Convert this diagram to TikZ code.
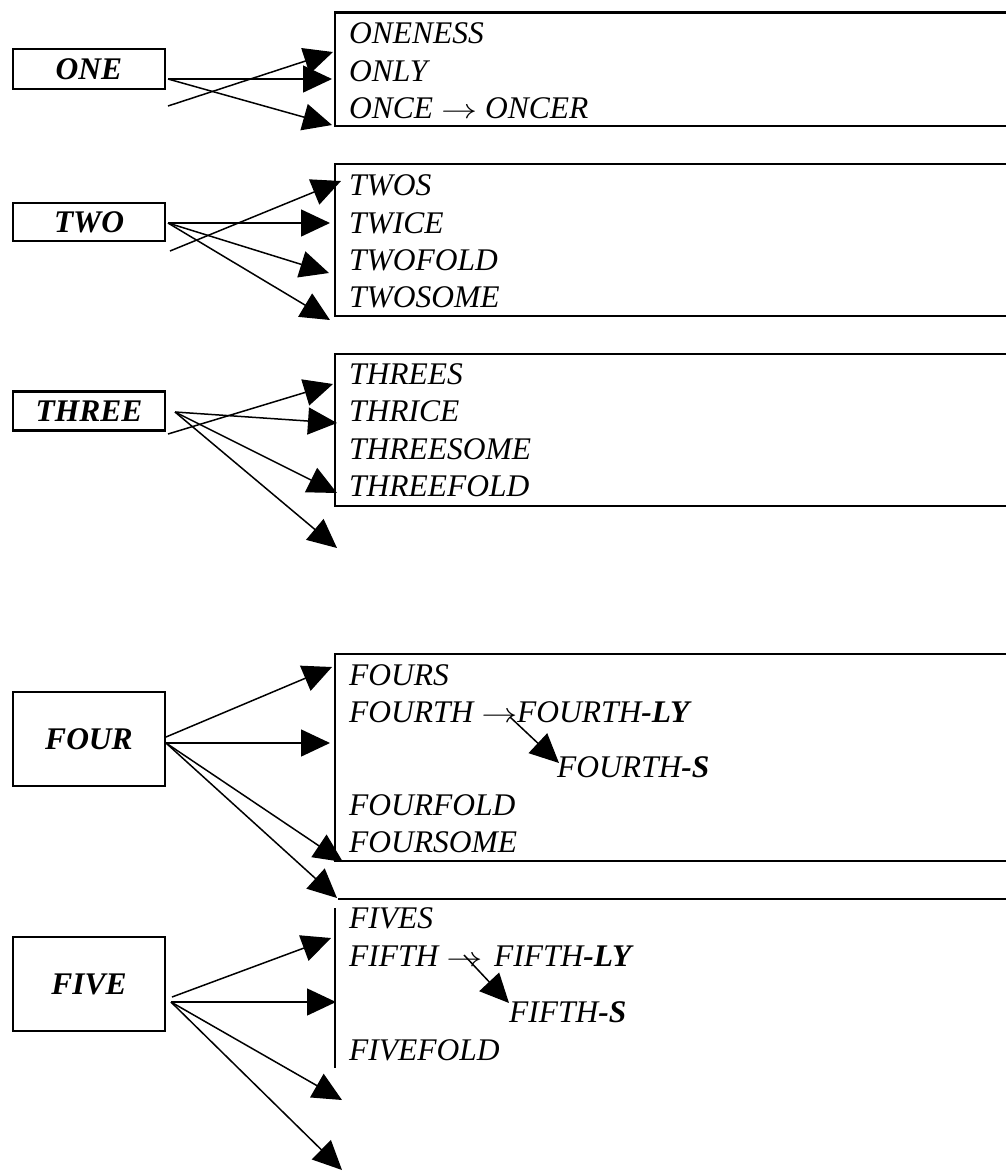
\documentclass[tikz,border=0pt]{standalone}
\usepackage{fontspec}
\setmainfont{Liberation Serif}
\usetikzlibrary{arrows.meta}
\newcommand{\rarr}{\scalebox{1.45}[1.1]{$\rightarrow$}}
\tikzset{
 conn/.style={line width=1.5pt, -{Triangle[length=29pt,width=27pt]}},
 boxline/.style={line width=2.3pt},
 labelbox/.style={draw, line width=2.5pt, minimum width=152pt, inner sep=0pt, font=\fontsize{31.5}{36}\selectfont\bfseries\itshape},
 word/.style={anchor=base west, inner sep=0pt, font=\fontsize{31.5}{36}\selectfont\itshape},
}
\begin{document}
\begin{tikzpicture}[x=1pt,y=-1pt]
\clip (0,0) rectangle (1006,1171);
\fill[white] (0,0) rectangle (1006,1171);

% label boxes
\node[labelbox, minimum height=40pt] (one) at (89,69) {ONE};
\node[labelbox, minimum height=38pt] (two) at (89,222) {TWO};
\node[labelbox, minimum height=39pt] (three) at (89,411) {THREE};
\node[labelbox, minimum height=94pt] (four) at (89,739) {FOUR};
\node[labelbox, minimum height=94pt] (five) at (89,984) {FIVE};

% content boxes (open on the right, cut by the page edge)
\draw[boxline] (1010,12.5) -- (335,12.5) -- (335,126) -- (1010,126);
\draw[boxline] (1010,164) -- (335,164) -- (335,315.7) -- (1010,315.7);
\draw[boxline] (1010,354) -- (335,354) -- (335,505.7) -- (1010,505.7);
\draw[boxline] (1010,654) -- (335,654) -- (335,861) -- (1010,861);
\draw[boxline] (1010,899) -- (338,899);
\draw[boxline] (335,908) -- (335,1068);

% words
\node[word] (w11) at (349,43) {ONENESS};
\node[word] (w12) at (349,81) {ONLY};
\node[word] (w13) at (349,118) {ONCE \rarr{} ONCER};

\node[word] (w21) at (349,195) {TWOS};
\node[word] (w22) at (349,233) {TWICE};
\node[word] (w23) at (349,270) {TWOFOLD};
\node[word] (w24) at (349,307) {TWOSOME};

\node[word] (w31) at (349,384) {THREES};
\node[word] (w32) at (349,421) {THRICE};
\node[word] (w33) at (349,459) {THREESOME};
\node[word] (w34) at (349,496) {THREEFOLD};

\node[word] (w41) at (349,685) {FOURS};
\node[word] (w42) at (349,722.7) {FOURTH \rarr};
\node[word] (w42b) at (517,722.7) {FOURTH\textbf{-LY}};
\node[word] (w43) at (557,777) {FOURTH\textbf{-S}};
\node[word] (w44) at (349,815) {FOURFOLD};
\node[word] (w45) at (349,852) {FOURSOME};

\node[word] (w51) at (349,928) {FIVES};
\node[word] (w52) at (349,966) {FIFTH \rarr};
\node[word] (w52b) at (494,966) {FIFTH\textbf{-LY}};
\node[word] (w53) at (509,1022) {FIFTH\textbf{-S}};
\node[word] (w54) at (349,1060) {FIVEFOLD};

% connector end points
\coordinate (a0) at (168,79);   \coordinate (a0b) at (168,106);
\coordinate (a1) at (332,79);   \coordinate (a2) at (332,125);  \coordinate (a3) at (333,52);
\coordinate (b0) at (168,223);  \coordinate (b0b) at (170,251);
\coordinate (b1) at (330,223);  \coordinate (b2) at (329,273);  \coordinate (b3) at (330,320); \coordinate (b4) at (341,181);
\coordinate (c0) at (175,412);  \coordinate (c0b) at (168,434);
\coordinate (c1) at (337,423);  \coordinate (c2) at (337,493);  \coordinate (c3) at (337,548); \coordinate (c4) at (333,384);
\coordinate (d0a) at (166,737); \coordinate (d0) at (166,743);
\coordinate (d1) at (332,667);  \coordinate (d2) at (330,743);  \coordinate (d3) at (343,862); \coordinate (d4) at (337,898);
\coordinate (e0a) at (172,997); \coordinate (e0) at (171,1002);
\coordinate (e1) at (331,938);  \coordinate (e2) at (336,1002); \coordinate (e3) at (342,1100); \coordinate (e4) at (342,1170);
\coordinate (f1) at (510,717);  \coordinate (f2) at (559,763);
\coordinate (g1) at (464,955);  \coordinate (g2) at (509,1003);

% connectors
\draw[conn] (a0) -- (a1);
\draw[conn] (a0) -- (a2);
\draw[conn] (a0b) -- (a3);

\draw[conn] (b0) -- (b1);
\draw[conn] (b0) -- (b2);
\draw[conn] (b0) -- (b3);
\draw[conn] (b0b) -- (b4);

\draw[conn] (c0) -- (c1);
\draw[conn] (c0) -- (c2);
\draw[conn] (c0) -- (c3);
\draw[conn] (c0b) -- (c4);

\draw[conn] (d0a) -- (d1);
\draw[conn] (d0) -- (d2);
\draw[conn] (d0) -- (d3);
\draw[conn] (d0) -- (d4);

\draw[conn] (e0a) -- (e1);
\draw[conn] (e0) -- (e2);
\draw[conn] (e0) -- (e3);
\draw[conn] (e0) -- (e4);

\draw[conn] (f1) -- (f2);
\draw[conn] (g1) -- (g2);
\end{tikzpicture}
\end{document}
